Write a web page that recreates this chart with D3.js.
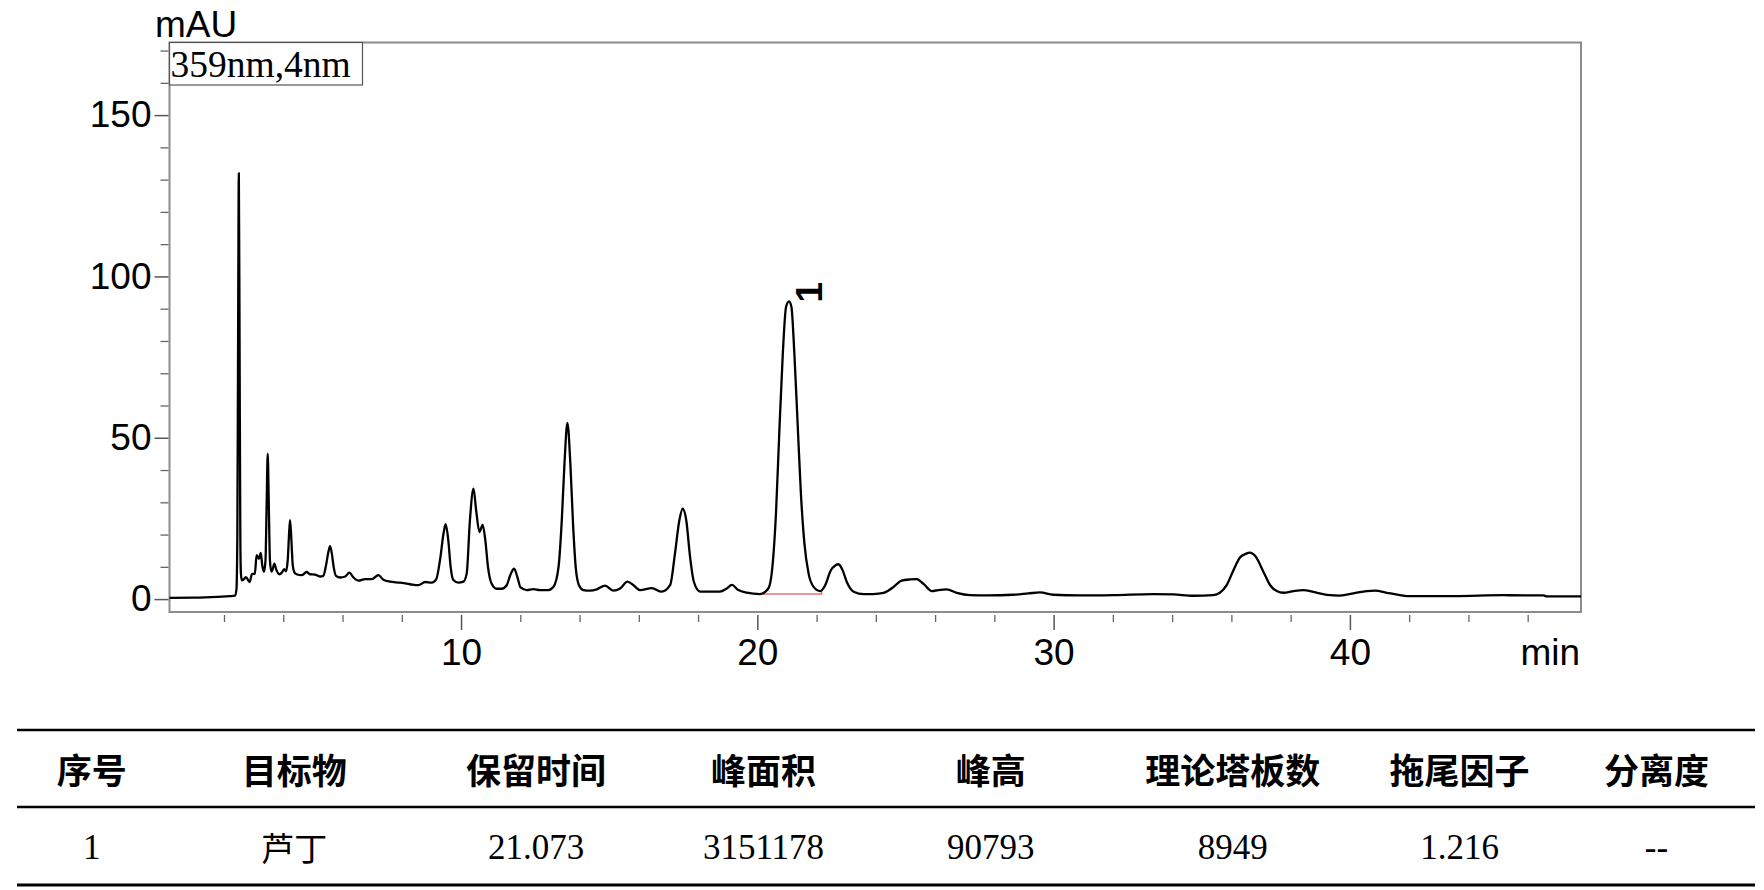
<!DOCTYPE html>
<html>
<head>
<meta charset="utf-8">
<script src="https://cdn.jsdelivr.net/npm/d3@7"></script>
<style>
  html, body { margin: 0; padding: 0; background: #fff; }
  svg { display: block; }
</style>
</head>
<body>
<svg id="chart" width="1764" height="890"></svg>
<script>
// ---------------- DATA ----------------
// Chromatogram trace: retention time (min) and absorbance (mAU)
const traceTime = [
  0.16, 1.0, 1.8, 2.2, 2.37, 2.42, 2.45, 2.475, 2.50, 2.525, 2.55, 2.57, 2.60, 2.65, 2.74, 2.86, 2.95, 3.04,
  3.10, 3.18, 3.24, 3.29, 3.35, 3.40, 3.44, 3.475, 3.51, 3.55, 3.60, 3.64, 3.70, 3.76, 3.87, 3.95, 4.03,
  4.09, 4.15, 4.20, 4.23, 4.27, 4.32, 4.38, 4.45, 4.62, 4.79, 4.90, 5.07, 5.24, 5.35, 5.44, 5.52, 5.58,
  5.64, 5.70, 5.78, 5.92, 6.09, 6.23, 6.37, 6.54, 6.76, 6.99, 7.21, 7.38, 7.60, 7.94, 8.28, 8.56, 8.79,
  9.01, 9.16, 9.29, 9.41, 9.48, 9.57, 9.65, 9.74, 9.91, 10.08, 10.19, 10.30, 10.42, 10.51, 10.62, 10.73,
  10.82, 10.91, 11.03, 11.20, 11.37, 11.54, 11.66, 11.79, 11.90, 12.01, 12.22, 12.44, 12.67, 12.95,
  13.12, 13.29, 13.40, 13.49, 13.59, 13.69, 13.78, 13.87, 13.98, 14.13, 14.35, 14.58, 14.86, 15.14,
  15.37, 15.62, 15.82, 16.04, 16.44, 16.77, 17.06, 17.22, 17.37, 17.48, 17.60, 17.73, 17.86, 18.07,
  18.40, 18.74, 18.97, 19.14, 19.36, 19.64, 20.09, 20.37, 20.52, 20.63, 20.74, 20.86, 20.97, 21.07,
  21.15, 21.25, 21.36, 21.47, 21.59, 21.73, 21.90, 22.12, 22.29, 22.48, 22.63, 22.74, 22.88, 23.02,
  23.25, 23.59, 23.92, 24.26, 24.45, 24.60, 24.87, 25.16, 25.38, 25.61, 25.89, 26.11, 26.39, 26.73,
  27.18, 27.74, 28.64, 29.15, 29.54, 29.99, 30.89, 32.02, 33.36, 34.04, 34.71, 35.39, 35.61, 35.84,
  36.07, 36.29, 36.48, 36.63, 36.80, 37.08, 37.31, 37.53, 37.76, 38.10, 38.43, 38.77, 39.22, 39.67,
  40.12, 40.57, 40.85, 41.24, 41.69, 41.92, 43.5, 45.18, 46.53, 46.64, 47.80
];
const traceMAU = [
  0.4, 0.45, 0.7, 0.9, 1.1, 3, 20, 80, 132, 80, 20, 8, 5.8, 6.0, 6.8, 5.3, 7.8, 7.8,
  13.6, 12.5, 14.3, 10.5, 8.5, 12, 30, 45.1, 30, 12, 8.5, 9.2, 11, 9.2, 7.7, 8.2, 9.3,
  8.6, 12, 21, 24.5, 19, 10.5, 8.2, 7.7, 7.4, 8.4, 7.7, 7.6, 7.0, 7.2, 10.3, 14.5, 16.4,
  14, 10, 7.2, 6.7, 7.0, 8.2, 6.7, 5.7, 6.2, 6.2, 7.4, 6.0, 5.4, 5.1, 4.6, 4.3, 5.3,
  5.1, 6.1, 12.1, 20.4, 23.2, 18.2, 9.9, 5.9, 5.1, 5.4, 7.9, 24.5, 34.2, 27.5, 20.8, 23.0,
  18.2, 9.9, 4.8, 3.2, 3.2, 4.3, 7.4, 9.4, 6.9, 3.6, 2.8, 3.1, 2.8, 2.8,
  3.8, 9.9, 24.4, 41.9, 54.6, 41.9, 23.3, 9.9, 4.3, 2.8, 2.6, 3.0, 4.2, 2.6,
  3.3, 5.4, 4.3, 2.8, 3.4, 2.3, 4.4, 14.1, 24.5, 28.0, 24.5, 13.1, 5.3, 2.3,
  2.3, 2.3, 3.3, 4.4, 2.8, 2.0, 1.55, 3.3, 11.1, 26.6, 51.3, 76.1, 90.6, 92.3,
  90.6, 76.1, 54.4, 32.8, 17.2, 7.9, 3.8, 2.5, 4.3, 8.9, 10.4, 10.8, 8.9, 5.3,
  2.3, 1.55, 1.55, 1.9, 2.8, 3.8, 5.7, 6.1, 6.2, 4.7, 2.5, 2.8, 3.0, 1.96,
  1.24, 1.14, 1.34, 1.76, 2.07, 1.34, 1.14, 1.24, 1.55, 1.45, 1.03, 1.24, 1.96, 4.3,
  8.96, 12.9, 14.0, 14.4, 13.4, 8.5, 4.3, 2.5, 1.96, 2.5, 2.8, 2.2, 1.34, 1.1,
  1.76, 2.5, 2.6, 1.96, 1.24, 0.95, 0.95, 1.2, 1.14, 0.85, 0.85
];

// Integrated peak (label, retention time, apex height, integration baseline start/end)
const peakLabels = ["1"];
const peakTimes = [21.073];
const peakHeights = [92.3];
const baselineStart = [20.09];
const baselineEnd = [22.17];
const baselineLevel = [1.6];

// Axes
const xDomain = [0.16, 47.80];
const yDomain = [-4, 172.5];
const xMajorTicks = [10, 20, 30, 40];
const xMinorTicks = [2, 4, 6, 8, 12, 14, 16, 18, 22, 24, 26, 28, 32, 34, 36, 38, 42, 44, 46];
const yMajorTicks = [0, 50, 100, 150];
const yMinorTicks = [10, 20, 30, 40, 60, 70, 80, 90, 110, 120, 130, 140, 160, 170];
const yUnit = "mAU";
const xUnit = "min";
const channelText = "359nm,4nm";

// Results table
const tableHeaders = ["序号", "目标物", "保留时间", "峰面积", "峰高", "理论塔板数", "拖尾因子", "分离度"];
const tableRow = ["1", "芦丁", "21.073", "3151178", "90793", "8949", "1.216", "--"];

// ---------------- LAYOUT ----------------
const svg = d3.select("#chart");
const plot = { left: 169.5, right: 1581, top: 42.5, bottom: 612 };
const sansFont = "'Liberation Sans', Arial, Helvetica, sans-serif";
const serifFont = "'Liberation Serif', 'Times New Roman', serif";
const cjkFont = "'Noto Sans CJK SC', 'Noto Sans', sans-serif";

const x = d3.scaleLinear().domain(xDomain).range([plot.left, plot.right]);
const y = d3.scaleLinear().domain(yDomain).range([plot.bottom, plot.top]);

// Frame
svg.append("rect")
  .attr("x", plot.left).attr("y", plot.top)
  .attr("width", plot.right - plot.left).attr("height", plot.bottom - plot.top)
  .attr("fill", "none").attr("stroke", "#8c8c8c").attr("stroke-width", 2);

// Y axis (major + minor)
const yAxisG = svg.append("g").attr("transform", `translate(${plot.left - 1},0)`)
  .call(d3.axisLeft(y).tickValues(yMajorTicks).tickSize(14).tickPadding(3).tickFormat(d3.format("d")));
yAxisG.select(".domain").remove();
yAxisG.selectAll("line").attr("stroke", "#555").attr("stroke-width", 1.5);
yAxisG.selectAll("text").attr("font-family", sansFont).attr("font-size", 37).attr("fill", "#000");

const yMinorG = svg.append("g").attr("transform", `translate(${plot.left - 1},0)`)
  .call(d3.axisLeft(y).tickValues(yMinorTicks).tickSize(8).tickFormat(""));
yMinorG.select(".domain").remove();
yMinorG.selectAll("line").attr("stroke", "#666").attr("stroke-width", 1.3);

// X axis (major + minor), ticks start a few px below the frame
const xAxisG = svg.append("g").attr("transform", `translate(0,${plot.bottom + 3})`)
  .call(d3.axisBottom(x).tickValues(xMajorTicks).tickSize(15).tickPadding(0).tickFormat(d3.format("d")));
xAxisG.select(".domain").remove();
xAxisG.selectAll("line").attr("stroke", "#555").attr("stroke-width", 1.5);
xAxisG.selectAll("text").attr("font-family", sansFont).attr("font-size", 37).attr("fill", "#000")
  .attr("y", 50).attr("dy", 0);

const xMinorG = svg.append("g").attr("transform", `translate(0,${plot.bottom + 3})`)
  .call(d3.axisBottom(x).tickValues(xMinorTicks).tickSize(7).tickFormat(""));
xMinorG.select(".domain").remove();
xMinorG.selectAll("line").attr("stroke", "#666").attr("stroke-width", 1.3);

// Unit labels
svg.append("text").attr("x", 155).attr("y", 37).text(yUnit)
  .attr("font-family", sansFont).attr("font-size", 37).attr("fill", "#000");
svg.append("text").attr("x", plot.right - 1).attr("y", plot.bottom + 53).text(xUnit)
  .attr("text-anchor", "end").attr("font-family", sansFont).attr("font-size", 37).attr("fill", "#000");

// Channel box
svg.append("rect").attr("x", plot.left).attr("y", plot.top).attr("width", 193).attr("height", 42.5)
  .attr("fill", "#fff").attr("stroke", "#555").attr("stroke-width", 1.2);
svg.append("text").attr("x", plot.left + 1).attr("y", plot.top + 34.5).text(channelText)
  .attr("font-family", serifFont).attr("font-size", 37.5).attr("fill", "#000");

// Integration baseline (red)
peakLabels.forEach((lab, i) => {
  const yb = y(baselineLevel[i]);
  svg.append("path")
    .attr("d", `M${x(baselineStart[i])},${yb}H${x(baselineEnd[i])}V${yb - 3}`)
    .attr("fill", "none").attr("stroke", "#f07070").attr("stroke-width", 1.5);
});

// Trace
const traceData = traceTime.map((t, i) => [t, traceMAU[i]]);
svg.append("path")
  .datum(traceData)
  .attr("d", d3.line().x(d => x(d[0])).y(d => y(d[1])).curve(d3.curveMonotoneX))
  .attr("fill", "none").attr("stroke", "#000").attr("stroke-width", 2.3)
  .attr("stroke-linejoin", "round");

// Peak labels (rotated)
peakLabels.forEach((lab, i) => {
  svg.append("text")
    .attr("transform", `translate(${x(peakTimes[i]) + 33},${y(peakHeights[i]) - 9}) rotate(-90)`)
    .attr("text-anchor", "middle")
    .attr("font-family", sansFont).attr("font-weight", "bold").attr("font-size", 37).attr("fill", "#000")
    .text(lab);
});

// ---------------- TABLE ----------------
const colEdges = [17, 166.5, 422, 650, 877, 1104.6, 1361, 1558, 1755];
const colCenters = colEdges.slice(0, -1).map((e, i) => (e + colEdges[i + 1]) / 2);
const tableLines = [{ y: 730, w: 2.5 }, { y: 807, w: 2.5 }, { y: 885, w: 3 }];
svg.selectAll("line.tbl").data(tableLines).enter().append("line")
  .attr("class", "tbl")
  .attr("x1", colEdges[0]).attr("x2", colEdges[colEdges.length - 1])
  .attr("y1", d => d.y).attr("y2", d => d.y)
  .attr("stroke", "#000").attr("stroke-width", d => d.w);

svg.selectAll("text.hdr").data(tableHeaders).enter().append("text")
  .attr("class", "hdr")
  .attr("x", (d, i) => colCenters[i]).attr("y", 768)
  .attr("text-anchor", "middle").attr("dominant-baseline", "central")
  .attr("font-family", cjkFont).attr("font-weight", "bold").attr("font-size", 35).attr("fill", "#000")
  .text(d => d);

svg.selectAll("text.cell").data(tableRow).enter().append("text")
  .attr("class", "cell")
  .attr("x", (d, i) => colCenters[i]).attr("y", 847)
  .attr("text-anchor", "middle").attr("dominant-baseline", "central")
  .attr("font-family", d => /[\u4e00-\u9fff]/.test(d) ? cjkFont : serifFont)
  .attr("font-size", d => /[\u4e00-\u9fff]/.test(d) ? 33 : 35)
  .attr("fill", "#000")
  .text(d => d);
</script>
</body>
</html>
